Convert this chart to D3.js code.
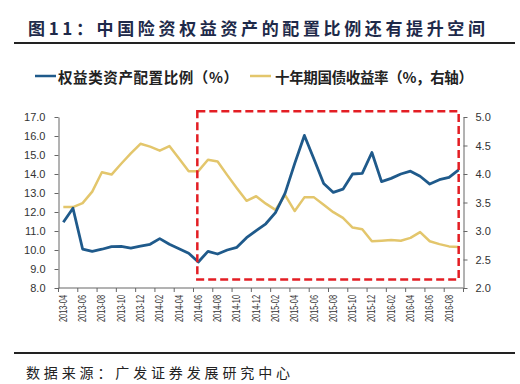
<!DOCTYPE html>
<html>
<head>
<meta charset="utf-8">
<script src="https://cdn.jsdelivr.net/npm/d3@7/dist/d3.min.js"></script>
<style>
  body { margin: 0; background: #fff; }
  svg { display: block; }
  .cjk { font-family: "Noto Sans CJK SC", sans-serif; }
  .tick text { font-family: "Liberation Sans", Arial, sans-serif; fill: #333; }
</style>
</head>
<body>
<div id="chart"></div>
<script>
let months = ["2013-04","2013-05","2013-06","2013-07","2013-08","2013-09","2013-10","2013-11","2013-12",
  "2014-01","2014-02","2014-03","2014-04","2014-05","2014-06","2014-07","2014-08","2014-09","2014-10","2014-11","2014-12",
  "2015-01","2015-02","2015-03","2015-04","2015-05","2015-06","2015-07","2015-08","2015-09","2015-10","2015-11","2015-12",
  "2016-01","2016-02","2016-03","2016-04","2016-05","2016-06","2016-07","2016-08","2016-09"];

// 权益类资产配置比例（%）
let equityShare = [11.46, 12.2, 10.05, 9.93, 10.04, 10.18, 10.19, 10.1, 10.2, 10.3, 10.6, 10.3, 10.07, 9.83,
  9.37, 9.93, 9.79, 10.0, 10.14, 10.65, 11.02, 11.38, 11.97, 12.99, 14.56, 16.03, 14.78, 13.5, 13.03, 13.2,
  14.0, 14.03, 15.13, 13.6, 13.77, 14.0, 14.15, 13.88, 13.47, 13.7, 13.82, 14.22];

// 十年期国债收益率（%，右轴）
let bondYield = [3.42, 3.42, 3.49, 3.69, 4.03, 3.99, 4.18, 4.36, 4.53, 4.48, 4.41, 4.49, 4.27, 4.05,
  4.05, 4.25, 4.22, 3.98, 3.75, 3.53, 3.61, 3.48, 3.37, 3.63, 3.35, 3.59, 3.59, 3.46, 3.33, 3.23,
  3.06, 3.03, 2.82, 2.83, 2.84, 2.83, 2.88, 2.98, 2.82, 2.77, 2.73, 2.72];

let leftTicks = [8, 9, 10, 11, 12, 13, 14, 15, 16, 17];
let rightTicks = [2.0, 2.5, 3.0, 3.5, 4.0, 4.5, 5.0];

// highlighted period (red dashed box), in data units
let boxStart = "2014-06", boxEnd = "2016-09", boxTop = 17.3, boxBottom = 8.45;

let width = 520, height = 384;
let blue = "#1f5a8b", yellow = "#e3c66c", red = "#e31e24";

let svg = d3.select("#chart").append("svg")
  .attr("width", width)
  .attr("height", height);

let x = d3.scaleBand()
  .domain(months)
  .range([58.5, 463.5])
  .padding(0);

let cx = function(m) { return x(m) + x.bandwidth() / 2; };

let yL = d3.scaleLinear().domain([8, 17]).range([288, 117]);
let yR = d3.scaleLinear().domain([2, 5]).range([288, 117]);

// title
svg.append("text")
  .attr("class", "cjk")
  .attr("x", 28).attr("y", 27)
  .attr("dominant-baseline", "central")
  .attr("textLength", 457)
  .attr("lengthAdjust", "spacing")
  .style("font-size", "17px")
  .style("font-weight", "bold")
  .style("fill", "#1e2a4a")
  .text("图11：中国险资权益资产的配置比例还有提升空间");

svg.append("line")
  .attr("x1", 14).attr("x2", 515)
  .attr("y1", 43).attr("y2", 43)
  .attr("stroke", "#222").attr("stroke-width", 2);

// legend
let legend = [
  { label: "权益类资产配置比例（%）", color: blue, lx: 35, tx: 58, tw: 180 },
  { label: "十年期国债收益率（%，右轴）", color: yellow, lx: 250, tx: 275, tw: 198 }
];
legend.forEach(function(d) {
  svg.append("line")
    .attr("x1", d.lx).attr("x2", d.lx + 21)
    .attr("y1", 76).attr("y2", 76)
    .attr("stroke", d.color).attr("stroke-width", 2.5);
  svg.append("text")
    .attr("class", "cjk")
    .attr("x", d.tx).attr("y", 76)
    .attr("dominant-baseline", "central")
    .attr("textLength", d.tw)
    .attr("lengthAdjust", "spacing")
    .style("font-size", "14.5px")
    .style("font-weight", "bold")
    .style("fill", "#222")
    .text(d.label);
});

// axes
let axisColor = "#666";

let gL = svg.append("g")
  .attr("transform", "translate(58.5,0)")
  .call(d3.axisLeft(yL).tickValues(leftTicks).tickFormat(d3.format(".1f")).tickSize(4).tickPadding(9).tickSizeOuter(0));
gL.selectAll("text").style("font-size", "11px");

let gR = svg.append("g")
  .attr("transform", "translate(463.5,0)")
  .call(d3.axisRight(yR).tickValues(rightTicks).tickFormat(d3.format(".1f")).tickSize(4).tickPadding(8).tickSizeOuter(0));
gR.selectAll("text").style("font-size", "11px");

[gL, gR].forEach(function(g) {
  g.select(".domain").attr("stroke", axisColor);
  g.selectAll(".tick line").attr("stroke", axisColor);
});

// x axis: ticks at every second category boundary, labels at category centres
let gX = svg.append("g");
gX.append("line")
  .attr("x1", 58.5).attr("x2", 463.5)
  .attr("y1", yL(8)).attr("y2", yL(8))
  .attr("stroke", axisColor);

let tickPos = months.filter(function(m, i) { return i % 2 === 0; }).map(function(m) { return x(m); });
tickPos.push(x.range()[1]);
gX.selectAll(".xtick")
  .data(tickPos)
  .enter().append("line")
  .attr("class", "xtick")
  .attr("x1", function(d) { return d; }).attr("x2", function(d) { return d; })
  .attr("y1", yL(8)).attr("y2", yL(8) + 4)
  .attr("stroke", axisColor);

gX.selectAll(".xlabel")
  .data(months.filter(function(m, i) { return i % 2 === 0; }))
  .enter().append("text")
  .attr("class", "xlabel")
  .attr("transform", function(d) { return "translate(" + cx(d) + "," + (yL(8) + 7) + ") rotate(-90)"; })
  .attr("text-anchor", "end")
  .attr("dominant-baseline", "central")
  .attr("textLength", 27)
  .attr("lengthAdjust", "spacingAndGlyphs")
  .style("font-family", "'Liberation Sans', Arial, sans-serif")
  .style("font-size", "10px")
  .style("fill", "#333")
  .text(function(d) { return d; });

// lines
let lineL = d3.line()
  .x(function(d, i) { return cx(months[i]); })
  .y(function(d) { return yL(d); });

let lineR = d3.line()
  .x(function(d, i) { return cx(months[i]); })
  .y(function(d) { return yR(d); });

svg.append("path")
  .datum(bondYield)
  .attr("fill", "none")
  .attr("stroke", yellow)
  .attr("stroke-width", 2.5)
  .attr("stroke-linejoin", "round")
  .attr("d", lineR);

svg.append("path")
  .datum(equityShare)
  .attr("fill", "none")
  .attr("stroke", blue)
  .attr("stroke-width", 2.8)
  .attr("stroke-linejoin", "round")
  .attr("d", lineL);

// red dashed box
svg.append("rect")
  .attr("x", cx(boxStart) - 1)
  .attr("y", yL(boxTop))
  .attr("width", cx(boxEnd) - cx(boxStart) + 1)
  .attr("height", yL(boxBottom) - yL(boxTop))
  .attr("fill", "none")
  .attr("stroke", red)
  .attr("stroke-width", 2.5)
  .attr("stroke-dasharray", "8,4");

// source
svg.append("line")
  .attr("x1", 14).attr("x2", 515)
  .attr("y1", 353).attr("y2", 353)
  .attr("stroke", "#222").attr("stroke-width", 1.8);

svg.append("text")
  .attr("class", "cjk")
  .attr("x", 26).attr("y", 372)
  .attr("dominant-baseline", "central")
  .attr("textLength", 264)
  .attr("lengthAdjust", "spacing")
  .style("font-size", "14px")
  .style("fill", "#222")
  .text("数据来源：广发证券发展研究中心");
</script>
</body>
</html>
